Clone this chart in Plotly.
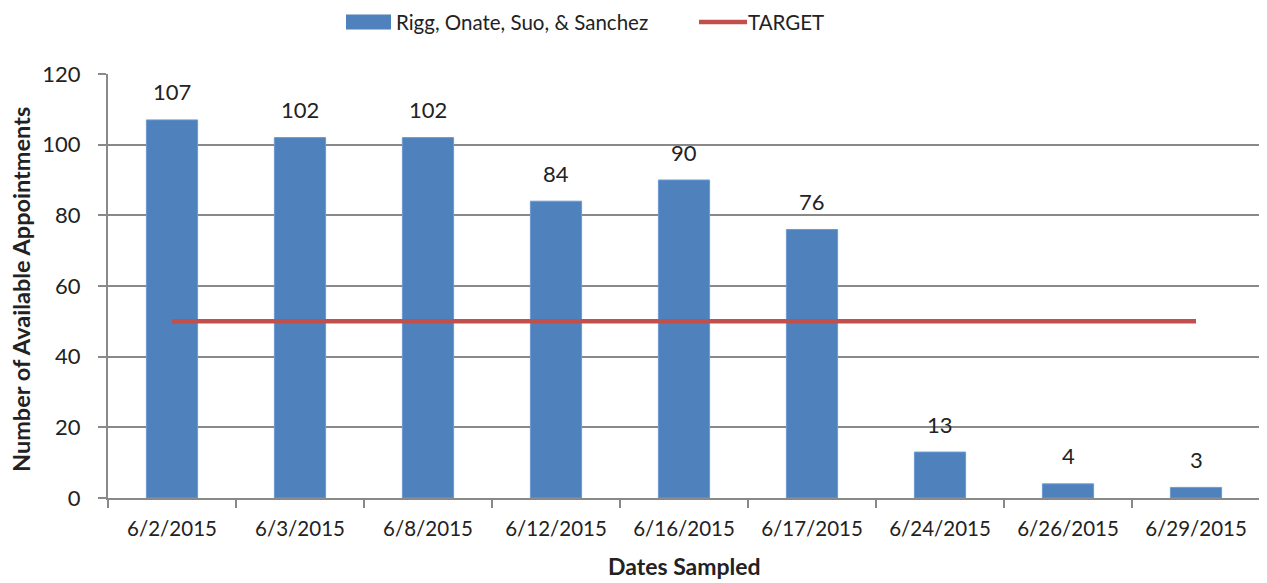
import plotly.graph_objects as go

dates = ["6/2/2015", "6/3/2015", "6/8/2015", "6/12/2015", "6/16/2015",
         "6/17/2015", "6/24/2015", "6/26/2015", "6/29/2015"]
appointments = [107, 102, 102, 84, 90, 76, 13, 4, 3]
target = [50] * len(dates)
series_name = "Rigg, Onate, Suo, & Sanchez"
target_name = "TARGET"
x_title = "Dates Sampled"
y_title = "Number of Available Appointments"

FONT = "Lato"
TXT = "#222222"
GRID = "#898989"
BLUE = "#4F81BD"
RED = "#C0504D"

fig = go.Figure()
fig.add_trace(go.Bar(
    x=dates, y=appointments, name=series_name,
    marker=dict(color=BLUE, line=dict(color="#6C9AD0", width=1)),
    width=0.4, showlegend=False,
))
fig.add_trace(go.Scatter(
    x=dates, y=target, name=target_name, mode="lines",
    line=dict(color=RED, width=4.5), showlegend=False,
))

# data labels above bars
for d, v in zip(dates, appointments):
    fig.add_annotation(x=d, y=v, text=str(v), showarrow=False, yshift=28,
                       font=dict(size=22, family=FONT, color=TXT))

# custom legend (paper coords; plot area 108..1260 x 74..498 px on screen)
def px2x(px):
    return (px - 108) / 1152

def py2y(py):
    return (498 - py) / 424

LEG_Y = 22
fig.add_shape(type="rect", xref="paper", yref="paper",
              x0=px2x(346), x1=px2x(391), y0=py2y(LEG_Y + 7.5), y1=py2y(LEG_Y - 7.5),
              fillcolor=BLUE, line=dict(width=0))
fig.add_annotation(xref="paper", yref="paper", x=px2x(395), y=py2y(LEG_Y),
                   xanchor="left", yanchor="middle", text=series_name, showarrow=False,
                   font=dict(size=20.5, family=FONT, color=TXT), borderpad=0)
fig.add_shape(type="line", xref="paper", yref="paper",
              x0=px2x(699), x1=px2x(747), y0=py2y(LEG_Y), y1=py2y(LEG_Y),
              line=dict(color=RED, width=4.5))
fig.add_annotation(xref="paper", yref="paper", x=px2x(747), y=py2y(LEG_Y),
                   xanchor="left", yanchor="middle", text=target_name, showarrow=False,
                   font=dict(size=20.5, family=FONT, color=TXT), borderpad=0)

# axis titles
fig.add_annotation(xref="paper", yref="paper", x=0.5, y=py2y(566),
                   xanchor="center", yanchor="middle", text="<b>%s</b>" % x_title,
                   showarrow=False, font=dict(size=23, family=FONT, color=TXT))
fig.add_annotation(xref="paper", yref="paper", x=px2x(21), y=py2y(290),
                   xanchor="center", yanchor="middle", text="<b>%s</b>" % y_title,
                   textangle=-90, showarrow=False, font=dict(size=23.5, family=FONT, color=TXT))

# page body has an 8px margin, so figure is 1259x575 placed at (8, 8)
fig.update_layout(
    width=1259, height=575,
    margin=dict(l=100, r=7, t=66, b=85),
    plot_bgcolor="white", paper_bgcolor="white",
    font=dict(family=FONT, size=18, color=TXT),
    showlegend=False,
)
fig.update_xaxes(
    automargin=False,
    tickson="boundaries", ticks="outside", ticklen=8, tickcolor=GRID, tickwidth=2,
    showline=True, linecolor=GRID, linewidth=2,
    tickfont=dict(size=20.5, family=FONT, color=TXT), ticklabelstandoff=11,
)
fig.update_yaxes(
    automargin=False,
    range=[0, 120], dtick=20, ticks="outside", ticklen=8, tickcolor=GRID, tickwidth=2,
    showline=True, linecolor=GRID, linewidth=2,
    showgrid=True, gridcolor=GRID, gridwidth=1.5,
    tickfont=dict(size=22, family=FONT, color=TXT), zeroline=False, ticklabelstandoff=13,
)
fig.write_html("out.html")
